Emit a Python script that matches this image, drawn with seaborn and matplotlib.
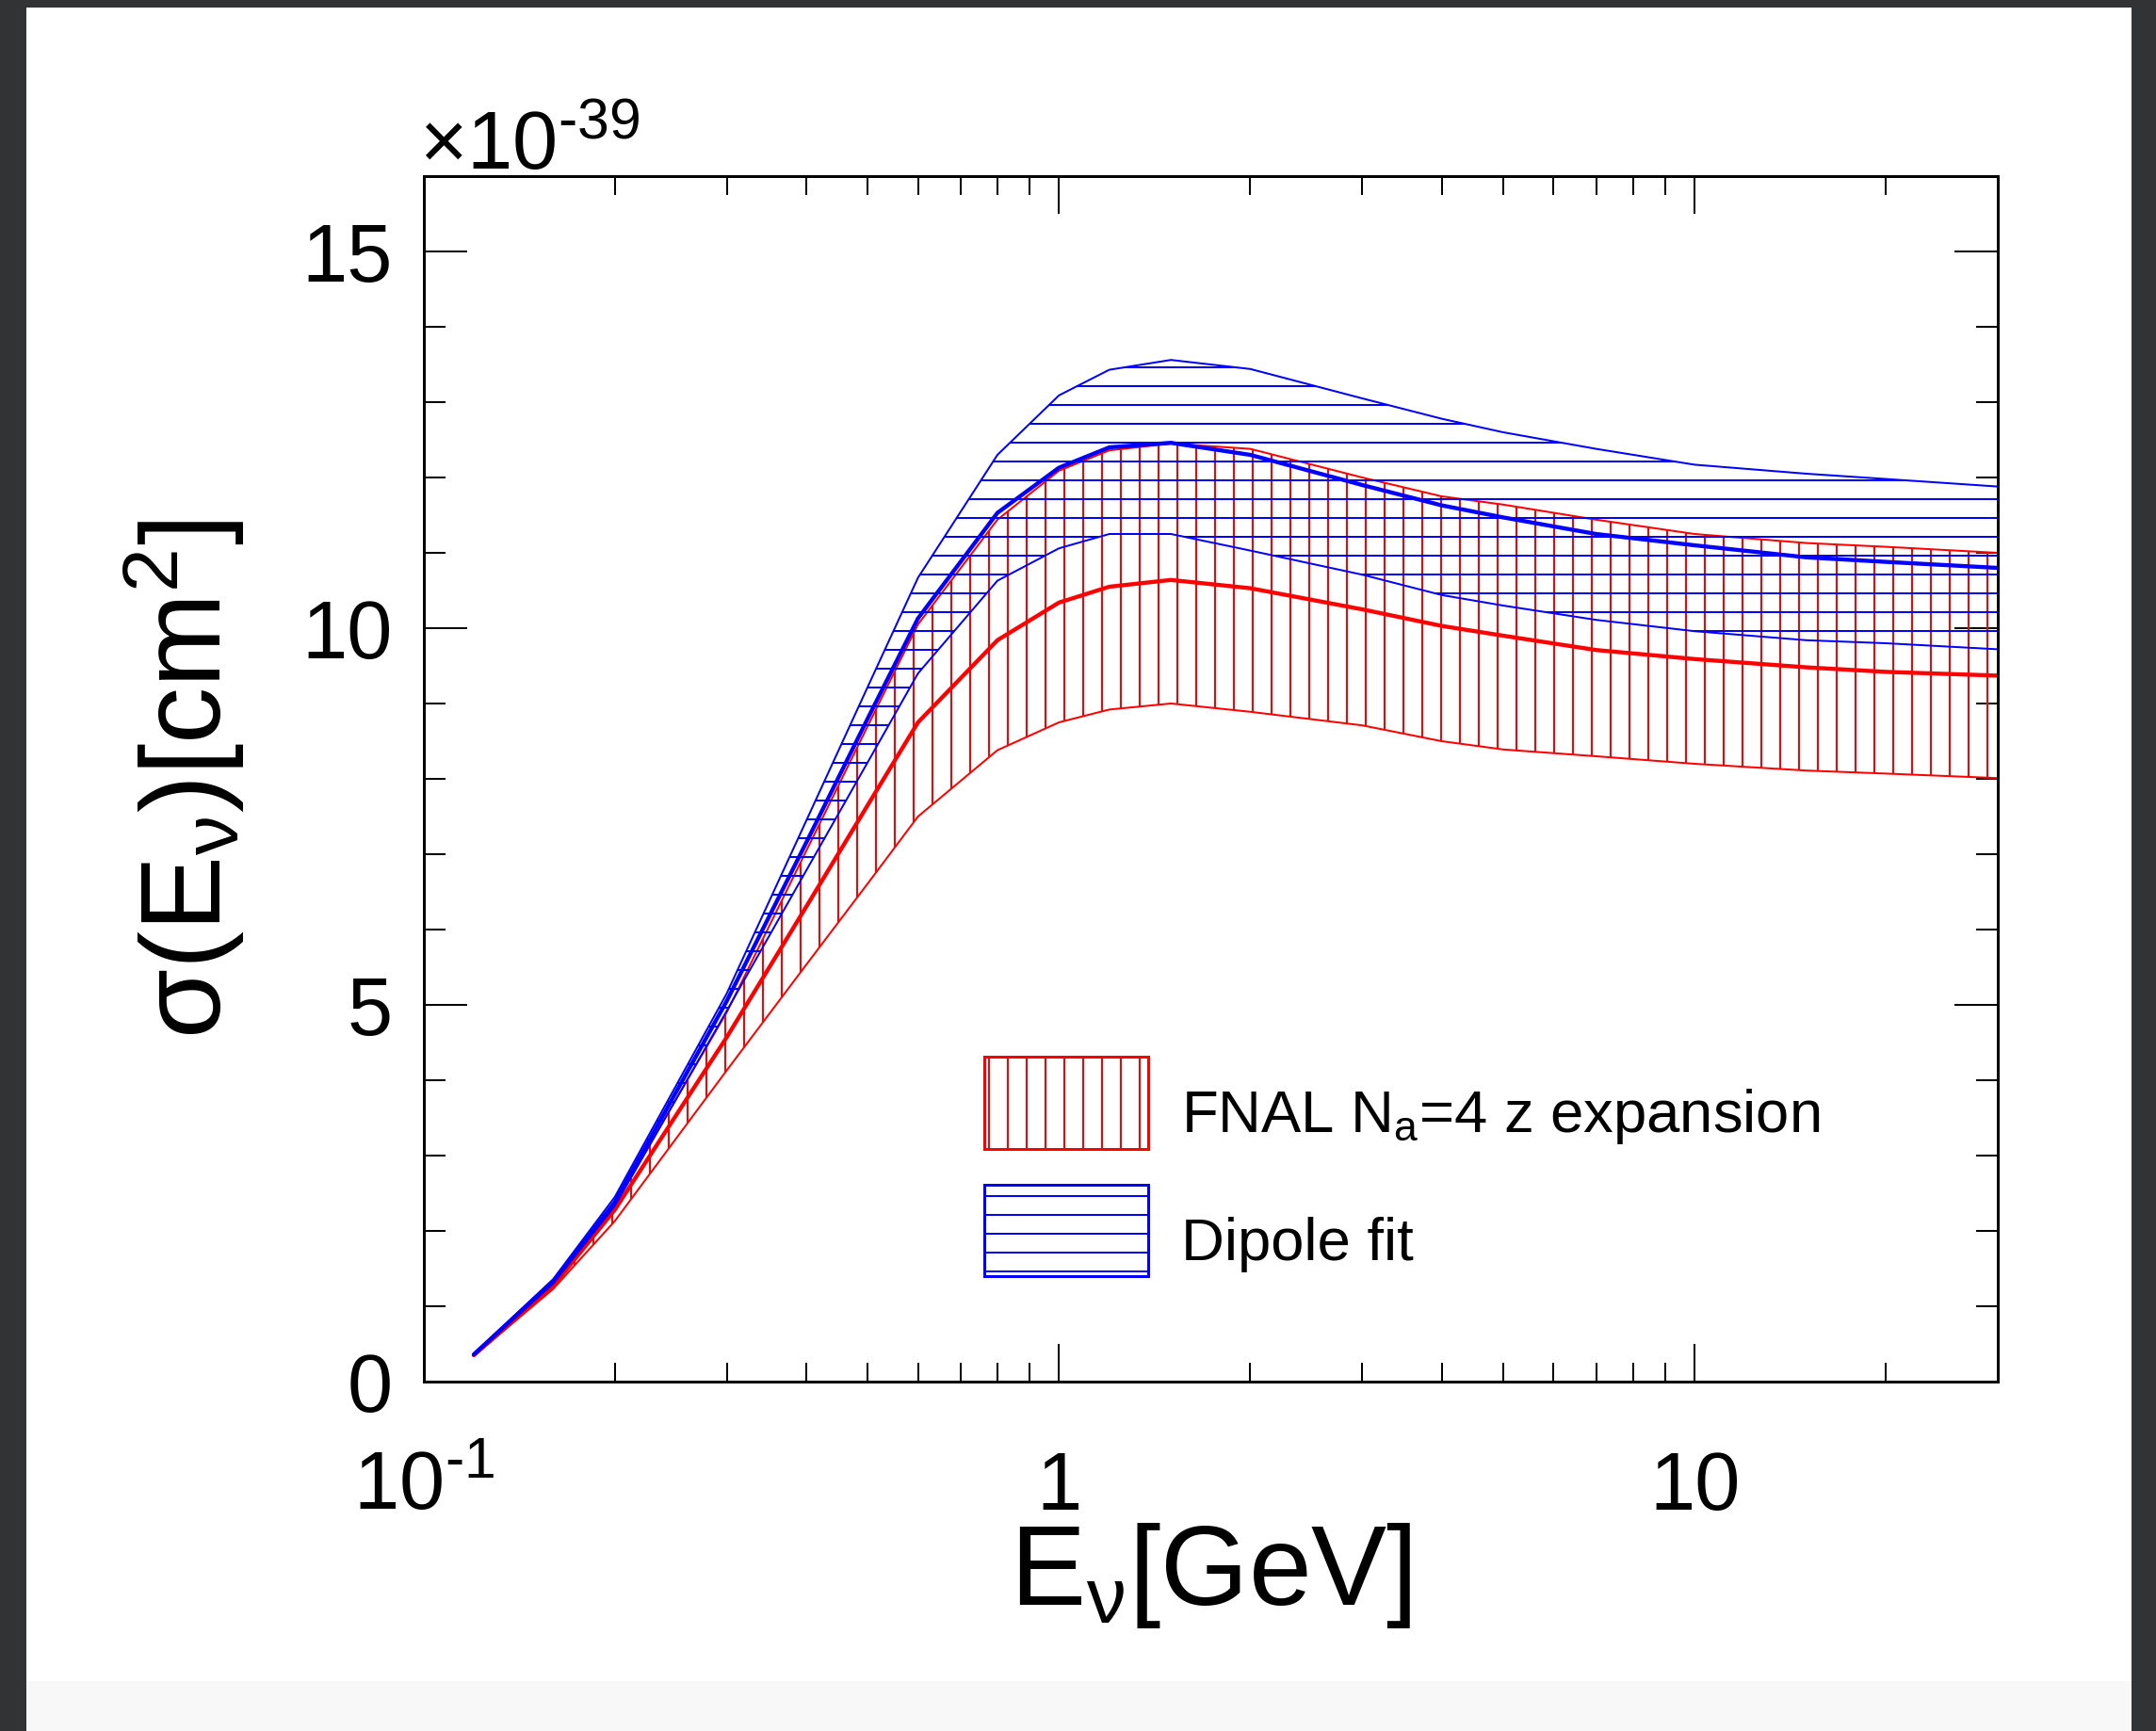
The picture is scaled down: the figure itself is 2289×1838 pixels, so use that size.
import matplotlib
matplotlib.use("Agg")
import matplotlib.pyplot as plt
from matplotlib.patches import Patch, Rectangle
from matplotlib.legend_handler import HandlerPatch
from matplotlib.ticker import FixedLocator, FixedFormatter, NullFormatter
import numpy as np
import pandas as pd
import seaborn as sns

# ---------------- data ----------------
energy = [0.12, 0.16, 0.2, 0.3, 0.4, 0.5, 0.6, 0.8, 1.0, 1.2, 1.5, 2.0,
          3.0, 4.0, 5.0, 7.0, 10.0, 15.0, 20.0, 30.0]

fnal_central = [0.35, 1.27, 2.28, 4.57, 6.30, 7.65, 8.75, 9.84, 10.34, 10.55,
                10.64, 10.53, 10.25, 10.03, 9.90, 9.71, 9.59, 9.48, 9.42, 9.37]
fnal_upper = [0.36, 1.31, 2.35, 4.90, 7.04, 8.70, 10.05, 11.44, 12.09, 12.36,
              12.45, 12.38, 12.00, 11.75, 11.64, 11.44, 11.25, 11.13, 11.08, 11.00]
fnal_lower = [0.34, 1.23, 2.13, 4.13, 5.53, 6.61, 7.50, 8.38, 8.75, 8.92,
              9.00, 8.89, 8.71, 8.50, 8.39, 8.30, 8.20, 8.11, 8.07, 8.01]

dipole_central = [0.36, 1.33, 2.38, 5.05, 7.15, 8.80, 10.13, 11.53, 12.13, 12.40,
                  12.46, 12.30, 11.90, 11.63, 11.47, 11.25, 11.10, 10.94, 10.88, 10.80]
dipole_upper = [0.37, 1.36, 2.45, 5.15, 7.44, 9.22, 10.67, 12.30, 13.09, 13.43,
                13.56, 13.44, 13.05, 12.78, 12.60, 12.38, 12.17, 12.05, 11.98, 11.88]
dipole_lower = [0.35, 1.30, 2.33, 4.92, 6.78, 8.22, 9.40, 10.63, 11.06, 11.25,
                11.25, 11.03, 10.71, 10.44, 10.30, 10.11, 9.96, 9.84, 9.80, 9.72]

x_ticks = [0.1, 1, 10]
x_tick_labels = ["$10^{\u20101}$", "1", "10"]
y_ticks = [0, 5, 10, 15]
y_tick_labels = ["0", "5", "10", "15"]
legend_labels = ["FNAL N$_{a}$=4 z expansion", "Dipole fit"]
x_title = "E$_{ν}$[GeV]"
y_title = "σ(E$_{ν}$)[cm$^{2}$]"
exponent_text = "×10$^{\u201039}$"

RED = "#ff0000"
BLUE = "#0000ff"

# ---------------- style ----------------
sns.set_theme(style="ticks")
plt.rcParams.update({
    "font.family": ["Liberation Sans", "DejaVu Sans"],
    "mathtext.fontset": "custom",
    "mathtext.rm": "Liberation Sans",
    "mathtext.it": "Liberation Sans:italic",
    "mathtext.bf": "Liberation Sans:bold",
    "mathtext.sf": "Liberation Sans",
    "mathtext.default": "regular",
    "hatch.linewidth": 1.2,
    "axes.linewidth": 1.8,
    "axes.edgecolor": "black",
    "axes.labelcolor": "black",
    "text.color": "black",
    "xtick.color": "black",
    "ytick.color": "black",
})

DPI = 120
W, H = 2289, 1838
fig = plt.figure(figsize=(W / DPI, H / DPI), dpi=DPI)
fig.patch.set_facecolor("#323335")
fig.add_artist(Rectangle((28 / W, 53 / H), (2263 - 28) / W, (1830 - 53) / H,
                         transform=fig.transFigure, facecolor="white",
                         edgecolor="none", zorder=-10))
fig.add_artist(Rectangle((28 / W, 0), (2263 - 28) / W, 53 / H,
                         transform=fig.transFigure, facecolor="#f8f8f8",
                         edgecolor="none", zorder=-10))

ax_l, ax_r, ax_t, ax_b = 449.6, 2121.0, 187.0, 1467.0
ax = fig.add_axes([ax_l / W, (H - ax_b) / H, (ax_r - ax_l) / W, (ax_b - ax_t) / H])
ax.set_facecolor("white")

# ---------------- bands ----------------
ax.fill_between(energy, fnal_lower, fnal_upper, facecolor="none",
                edgecolor=RED, hatch="|", linewidth=0, zorder=1)
sns.lineplot(x=energy, y=fnal_upper, color=RED, linewidth=1.2, ax=ax,
             estimator=None, sort=False, zorder=2)
sns.lineplot(x=energy, y=fnal_lower, color=RED, linewidth=1.2, ax=ax,
             estimator=None, sort=False, zorder=2)
sns.lineplot(x=energy, y=fnal_central, color=RED, linewidth=2.6, ax=ax,
             estimator=None, sort=False, zorder=2)

ax.fill_between(energy, dipole_lower, dipole_upper, facecolor="none",
                edgecolor=BLUE, hatch="-", linewidth=0, zorder=3)
sns.lineplot(x=energy, y=dipole_upper, color=BLUE, linewidth=1.2, ax=ax,
             estimator=None, sort=False, zorder=4)
sns.lineplot(x=energy, y=dipole_lower, color=BLUE, linewidth=1.2, ax=ax,
             estimator=None, sort=False, zorder=4)
sns.lineplot(x=energy, y=dipole_central, color=BLUE, linewidth=2.6, ax=ax,
             estimator=None, sort=False, zorder=4)

# ---------------- axes ----------------
ax.set_xscale("log")
ax.set_xlim(0.1, 30)
ax.set_ylim(0, 16)
ax.xaxis.set_major_locator(FixedLocator(x_ticks))
ax.xaxis.set_major_formatter(FixedFormatter(x_tick_labels))
minor_x = [m * 10.0 ** k for k in (-1, 0, 1) for m in range(2, 10) if m * 10.0 ** k <= 30]
ax.xaxis.set_minor_locator(FixedLocator(minor_x))
ax.xaxis.set_minor_formatter(NullFormatter())
ax.yaxis.set_major_locator(FixedLocator(y_ticks))
ax.yaxis.set_major_formatter(FixedFormatter(y_tick_labels))
ax.yaxis.set_minor_locator(FixedLocator(list(range(0, 17))))
ax.yaxis.set_minor_formatter(NullFormatter())

ax.tick_params(which="both", direction="in", top=True, right=True,
               width=1.2, color="black", labelsize=52, labelcolor="black")
ax.tick_params(axis="x", which="major", length=24, pad=81.6)
ax.tick_params(axis="x", which="minor", length=12)
ax.tick_params(axis="y", which="major", length=27.6, pad=20)
ax.tick_params(axis="y", which="minor", length=13.8)
for lab in ax.get_xticklabels():
    lab.set_verticalalignment("baseline")
for sp in ax.spines.values():
    sp.set_linewidth(1.8)
    sp.set_color("black")

ax.set_xlabel(x_title, fontsize=72, color="black")
ax.xaxis.set_label_coords(0.5, -0.1156)
ax.set_ylabel(y_title, fontsize=72, color="black")
ax.yaxis.set_label_coords(-0.1125, 0.5)

ax.text(-0.003, 1 + 7 / 1280, exponent_text, transform=ax.transAxes,
        fontsize=52, ha="left", va="baseline", color="black")

# legend: boxes raised relative to the text baseline (ROOT-like placement)
BOX_SHIFT = 7.0  # points


def raised_box(legend, orig_handle, xdescent, ydescent, width, height, fontsize):
    return Rectangle((-xdescent, -ydescent + BOX_SHIFT), width, height)


handles = [Patch(facecolor="none", edgecolor=RED, hatch="|", linewidth=1.8),
           Patch(facecolor="none", edgecolor=BLUE, hatch="-", linewidth=1.8)]
ax.legend(handles, legend_labels, loc="upper left",
          bbox_to_anchor=(0.356, 0.2698 - BOX_SHIFT * DPI / 72 / 1280),
          frameon=False, fontsize=38, handlelength=2.76, handleheight=2.0,
          labelspacing=0.6, handletextpad=0.55, borderpad=0, borderaxespad=0,
          handler_map={Patch: HandlerPatch(patch_func=raised_box)})

fig.savefig("out.png", dpi=DPI, facecolor=fig.get_facecolor())
